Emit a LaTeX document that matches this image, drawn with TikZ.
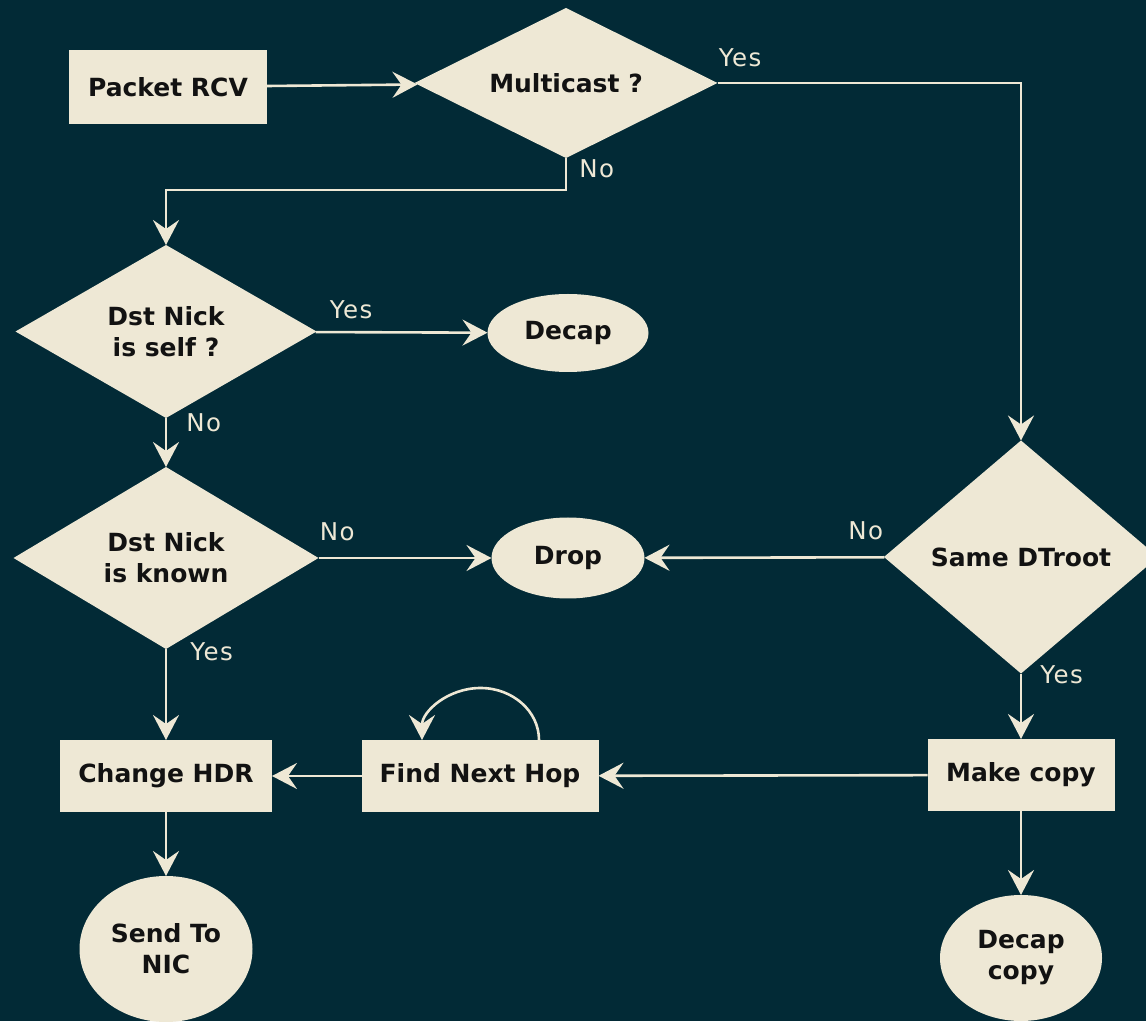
\documentclass[tikz,border=0pt]{standalone}
\usepackage{fontspec}
\setmainfont{DejaVu Sans}
\newfontfamily\lblfamily[LetterSpace=6]{DejaVu Sans}
\usepackage{tikz}
\usetikzlibrary{shapes.geometric, arrows.meta}
\definecolor{bgdark}{HTML}{022A36}
\definecolor{paper}{HTML}{EEE8D5}
\definecolor{ink}{HTML}{121212}
\newcommand{\nodefont}{\fontsize{25}{31}\selectfont\bfseries}
\newcommand{\lblfont}{\lblfamily\fontsize{24.5}{28}\selectfont}
\tikzset{
  process/.style={rectangle, minimum width=200pt, minimum height=72pt, text centered, fill=paper, text=ink, font=\nodefont, outer sep=0pt},
  decision/.style={diamond, aspect=1.7, minimum width=300pt, minimum height=170pt, inner sep=0pt, align=center, fill=paper, text=ink, font=\nodefont, outer sep=0pt},
  terminal/.style={ellipse, minimum width=160pt, minimum height=80pt, inner sep=0pt, align=center, fill=paper, text=ink, font=\nodefont, outer sep=0pt},
  lbl/.style={text=paper, font=\lblfont, inner sep=0pt},
  arrow/.style={draw=paper, line width=2.6pt, -{Stealth[length=25pt, width=26pt, inset=9pt]}}
}

\begin{document}
\begin{tikzpicture}[x=1pt, y=1pt]
    \useasboundingbox (0,0) rectangle (1146,1021);
    \fill[bgdark] (0,0) rectangle (1146,1021);

    \node (pkt) [process, minimum width=198pt, minimum height=74pt] at (168,934) {Packet RCV};
    \node (mcast) [decision, aspect=2, minimum width=303pt, minimum height=150pt] at (566,938) {Multicast ?};
    \node (self) [decision, minimum width=301pt, minimum height=173pt] at (166,689.5) {Dst Nick\\is self ?};
    \node (decap) [terminal, minimum width=161pt, minimum height=78pt] at (568,688) {Decap};
    \node (known) [decision, minimum width=305pt, minimum height=182pt] at (166,463) {Dst Nick\\is known};
    \node (drop) [terminal, minimum width=153pt, minimum height=81pt] at (568,463) {Drop};
    \node (dtroot) [decision, aspect=1.2, minimum width=274pt, minimum height=233pt] at (1021,464) {Same DTroot};
    \node (mkcopy) [process, minimum width=187pt] at (1021,246) {Make copy};
    \node (fnh) [process, minimum width=237pt] at (480,245) {Find Next Hop};
    \node (chdr) [process, minimum width=212pt] at (166,245) {Change HDR};
    \node (nic) [terminal, minimum width=173pt, minimum height=146pt] at (166,72) {Send To\\NIC};
    \node (dcopy) [terminal, minimum width=162pt, minimum height=126pt] at (1021,63) {Decap\\copy};

    \draw [arrow] (pkt) -- (mcast);
    \draw [arrow] (mcast.east) -| node[lbl, at start, anchor=south west, yshift=15pt] {Yes} (dtroot.north);
    \draw [arrow] (mcast.south) -- node[lbl, at start, anchor=north west, xshift=12pt] {No} ([yshift=-32pt]mcast.south) -| (self.north);
    \draw [arrow] (self) -- node[lbl, at start, anchor=south west, xshift=13pt, yshift=12pt] {Yes} (decap);
    \draw [arrow] (self) -- node[lbl, at start, anchor=north west, xshift=19pt, yshift=6pt] {No} (known);
    \draw [arrow] (known) -- node[lbl, at start, anchor=south west, yshift=16pt] {No} (drop);
    \draw [arrow] (dtroot) -- node[lbl, at start, anchor=south east, yshift=16pt] {No} (drop);
    \draw [arrow] (dtroot) -- node[lbl, at start, anchor=north west, xshift=18pt, yshift=9pt] {Yes} (mkcopy);
    \draw [arrow] (known) -- node[lbl, at start, anchor=north west, xshift=23pt, yshift=8pt] {Yes} (chdr);
    \draw [arrow] (mkcopy) -- (fnh);
    \draw [arrow] (fnh) -- (chdr);
    \draw [arrow] (chdr) -- (nic);
    \draw [arrow] (mkcopy) -- (dcopy);
    \draw [arrow] ([xshift=59pt]fnh.north) arc[start angle=0, end angle=180, x radius=58.5pt, y radius=52pt];
\end{tikzpicture}
\end{document}
